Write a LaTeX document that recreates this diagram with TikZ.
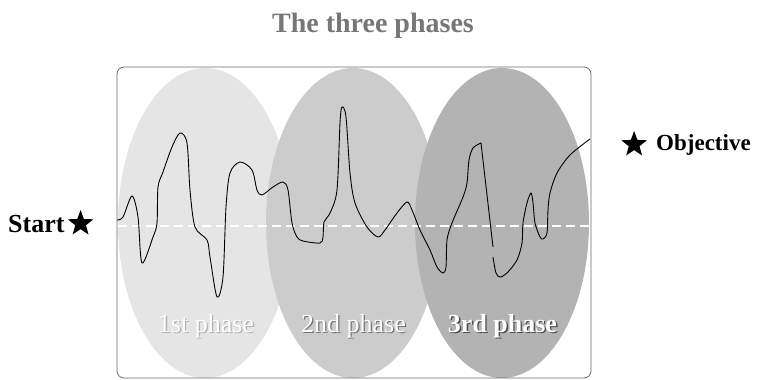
\documentclass[tikz,border=0pt]{standalone}
\usepackage{fontspec}
\setmainfont{Liberation Serif}
\usetikzlibrary{shapes.geometric,positioning}
\definecolor{mist}{RGB}{229,229,229}
\definecolor{fog}{RGB}{204,204,204}
\definecolor{slate}{RGB}{179,179,179}
\definecolor{titlegray}{RGB}{119,119,119}
\definecolor{framegray}{RGB}{105,105,105}
\tikzset{
  phase/.style={ellipse,fill=#1,inner sep=0pt,minimum width=174pt,minimum height=310pt},
  phase/.default=fog,
  phase name/.style={font=\fontsize{26}{26}\selectfont,text=#1,inner sep=0pt,anchor=base},
  phase name/.default=white,
  goal/.style={star,star points=5,star point ratio=2.4,fill=black,minimum size=27pt,inner sep=0pt},
  tag/.style={font=\fontsize{#1}{#1}\selectfont\bfseries,inner sep=0pt},
  tag/.default=26,
  wave/.style={black,line width=0.9pt,smooth,tension=0.5},
  midline/.style={white,line width=1.2pt,dash pattern=on 9pt off 5pt},
}
\begin{document}
\begin{tikzpicture}[x=1pt,y=-1pt]
  \useasboundingbox (0,0) rectangle (761,380);
  \node[font=\fontsize{28}{28}\selectfont\bfseries,text=titlegray,anchor=base] (title) at (373,32) {The three phases};
  % the three phases
  \foreach \n/\x/\c in {1/205/mist,2/353/fog,3/502/slate}{
    \node[phase=\c] (ph\n) at (\x,223) {};
  }
  \node[draw=framegray,line width=0.8pt,rounded corners=7pt,minimum width=474pt,minimum height=311pt,inner sep=0pt] (frame) at (354,222.5) {};
  \draw[midline] (118,226) -- (590,226);
  % the path
  \draw[wave] plot coordinates {(117,220) (123,217) (132,196) (138,217) (142,263) (153,237) (157,223) (158,187) (163,172) (172,147) (180,133) (187,143) (190,190) (195,227) (207,240) (210,257) (217,297) (223,277) (226,207) (230,173) (240,162) (252,170) (257,190) (262,195) (273,187) (283,182) (288,190) (292,223) (297,237) (303,241) (320,243) (323,237) (324,222) (330,213) (337,190) (340,123) (342,107) (346,117) (350,173) (355,203) (367,227) (378,237) (385,230) (397,213) (407,202) (412,210) (420,230) (430,250) (437,267) (443,273) (446,267) (447,240) (452,223) (463,197) (467,183) (469,160) (473,148) (481,143)} -- (493,247);
  \draw[wave] plot coordinates {(493,257) (496,273) (500,277) (507,273) (517,260) (522,243) (523,223) (527,203) (531,193) (533,203) (535,223) (540,237) (543,239) (547,233) (548,210) (550,193) (557,173) (570,155) (590,139)};
  % labels
  \foreach \n/\x/\s/\w/\t in {1/206/black!30/\mdseries/1st phase,2/353.5/black!55/\mdseries/2nd phase,3/502.5/black!70/\bfseries/3rd phase}{
    \node[phase name=\s] (lab\n s) at (\x+1.3,333.3) {\w\t};
    \node[phase name] (lab\n) at (\x,332) {\w\t};
  }
  \node[tag,anchor=base west] (start) at (8,232) {Start};
  \node[goal,right=8pt of start] (startstar) {};
  \node[tag=23,anchor=base west] (objective) at (656,150) {Objective};
  \node[goal,left=14pt of objective] (goalstar) {};
\end{tikzpicture}
\end{document}
